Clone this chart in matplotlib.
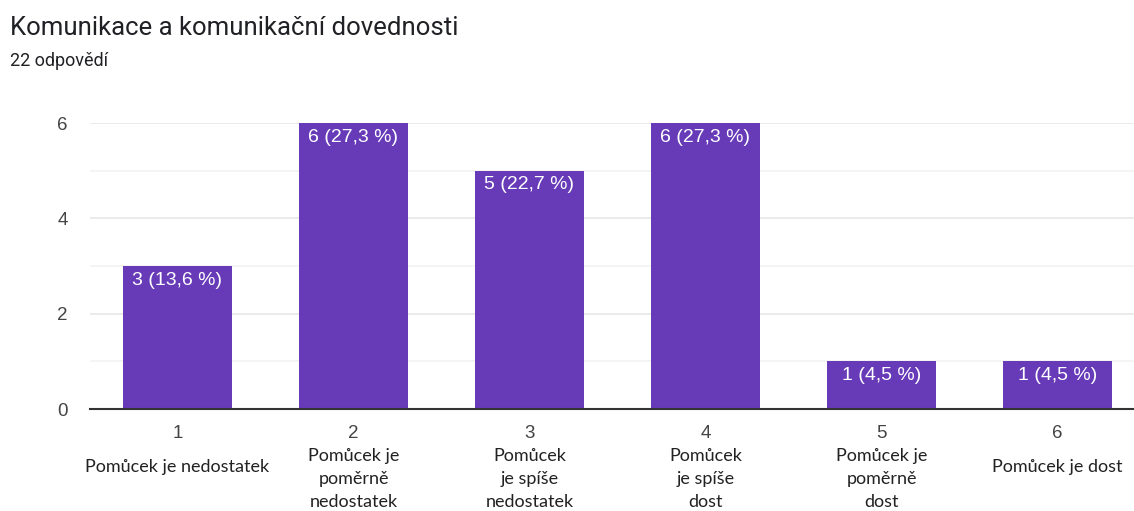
# Google Forms style bar chart: Komunikace a komunikační dovednosti
import matplotlib
matplotlib.use('Agg')
from matplotlib import pyplot as plt
from matplotlib import transforms

categories = ['1', '2', '3', '4', '5', '6']
descriptions = ['Pomůcek je nedostatek',
                'Pomůcek je\npoměrně\nnedostatek',
                'Pomůcek\nje spíše\nnedostatek',
                'Pomůcek\nje spíše\ndost',
                'Pomůcek je\npoměrně\ndost',
                'Pomůcek je dost']
counts = [3, 6, 5, 6, 1, 1]
percents = ['13,6', '27,3', '22,7', '27,3', '4,5', '4,5']
total = 22

purple = '#673ab7'
W, H = 1134, 511

fig = plt.figure(figsize=(W / 100, H / 100), dpi=100)
fig.patch.set_facecolor('white')

# plot area runs off the right edge, like the original widget
left, bottom, top = 89.5, 409, 123
width = 6 * 176
ax = fig.add_axes([left / W, (H - bottom) / H, width / W, (bottom - top) / H])

x = range(len(categories))
bars = ax.bar(x, counts, width=0.62, color=purple, zorder=3)

ax.set_xlim(-0.5, len(categories) - 0.5)
ax.set_ylim(0, 6)
ax.set_yticks([0, 2, 4, 6])
ax.set_yticks([1, 3, 5], minor=True)
ax.grid(axis='y', which='major', color='#e8e8e8', linewidth=1.2, zorder=0)
ax.grid(axis='y', which='minor', color='#f2f2f2', linewidth=1.2, zorder=0)
ax.tick_params(axis='y', which='both', length=0, pad=15.5, labelsize=13.5,
               labelcolor='#444444')
ax.tick_params(axis='x', length=0, pad=11.5, labelsize=13.5, labelcolor='#444444')
ax.set_xticks(list(x))
ax.set_xticklabels(categories)
for lbl in ax.get_xticklabels() + ax.get_yticklabels():
    lbl.set_fontfamily('Liberation Sans')

for s in ['top', 'right', 'left']:
    ax.spines[s].set_visible(False)
ax.spines['bottom'].set_color('#333333')
ax.spines['bottom'].set_linewidth(1.5)
ax.spines['bottom'].set_zorder(4)

# value labels inside the top of each bar
for b, c, p in zip(bars, counts, percents):
    ax.annotate('%d (%s %%)' % (c, p), xy=(b.get_x() + b.get_width() / 2, c),
                xytext=(0, -4), textcoords='offset points',
                ha='center', va='top', color='white', fontsize=14,
                family='Liberation Sans', zorder=5)

# answer descriptions under the tick numbers
trans = transforms.blended_transform_factory(ax.transData, ax.transAxes)
for i, d in enumerate(descriptions):
    lines = d.count('\n') + 1
    off = -28 if lines > 1 else -36
    ax.annotate(d, xy=(i, 0), xycoords=trans, xytext=(0, off),
                textcoords='offset points', ha='center', va='top',
                fontsize=13, family='Lato', color='#222222',
                linespacing=1.55, annotation_clip=False)

fig.text(10 / W, 1 - 28 / H, 'Komunikace a komunikační dovednosti',
         fontsize=18.5, family='Roboto', color='#202124', va='center')
fig.text(10 / W, 1 - 61 / H, '%d odpovědí' % total,
         fontsize=13, family='Roboto', color='#202124', va='center')

fig.savefig('out.png', dpi=100)
